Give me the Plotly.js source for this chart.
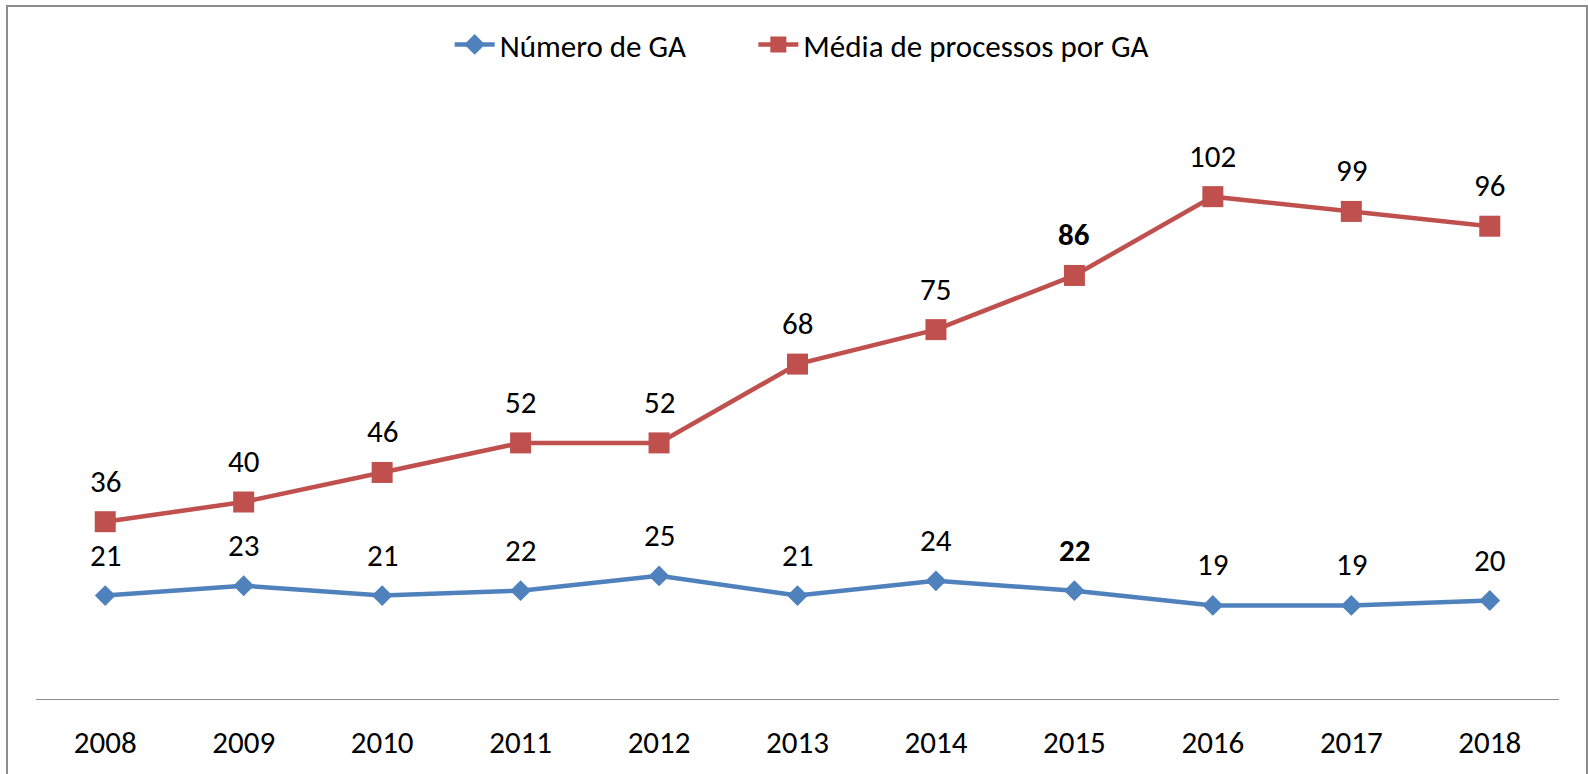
<!DOCTYPE html>
<html>
<head>
<meta charset="utf-8">
<script src="https://cdn.plot.ly/plotly-3.0.1.min.js"></script>
<style>
  html, body { margin: 0; padding: 0; background: #fff; }
  #wrap { position: relative; width: 1588px; height: 774px; overflow: hidden; }
  #chart { width: 1588px; height: 774px; }
  #frame { position: absolute; left: 6px; top: 5px; right: 0px; bottom: -10px;
           border: 2px solid #8c8c8c; pointer-events: none; }
  #err { position: absolute; left: 20px; top: 100px; color: red; font-size: 14px; }
</style>
</head>
<body>
<div id="wrap">
  <div id="chart"></div>
  <div id="frame"></div>
  <div id="err"></div>
</div>
<script>
window.onerror = function (m) { document.getElementById('err').textContent += m + ' | '; };

const years = ['2008','2009','2010','2011','2012','2013','2014','2015','2016','2017','2018'];
const numeroGA = [21, 23, 21, 22, 25, 21, 24, 22, 19, 19, 20];
const mediaProcessos = [36, 40, 46, 52, 52, 68, 75, 86, 102, 99, 96];
const boldIndex = 7;
const seriesNames = ['Número de GA', 'Média de processos por GA'];

const FONT = 'Carlito, Calibri, Lato, sans-serif';
const FS = 31;
const BLUE = '#4F81BD';
const RED = '#C0504D';

const traces = [
  {
    x: years, y: numeroGA, name: seriesNames[0], type: 'scatter', mode: 'lines+markers',
    line: { color: BLUE, width: 4.5 },
    marker: { symbol: 'diamond', size: 16, color: BLUE },
    hoverinfo: 'skip', cliponaxis: false, legend: 'legend'
  },
  {
    x: years, y: mediaProcessos, name: seriesNames[1], type: 'scatter', mode: 'lines+markers',
    line: { color: RED, width: 4.5 },
    marker: { symbol: 'square', size: 21, color: RED },
    hoverinfo: 'skip', cliponaxis: false, legend: 'legend2'
  }
];

const annotations = [];
[numeroGA, mediaProcessos].forEach(function (arr) {
  arr.forEach(function (v, i) {
    annotations.push({
      x: i, y: v, xref: 'x', yref: 'y',
      text: i === boldIndex ? '<b>' + v + '</b>' : String(v),
      showarrow: false, yshift: 41, xanchor: 'center', yanchor: 'middle',
      font: { family: FONT, size: FS, color: '#000000' }
    });
  });
});

function legendBox(xpos) {
  return {
    orientation: 'h', x: xpos, xanchor: 'left', y: 1.107, yanchor: 'middle',
    font: { family: FONT, size: FS, color: '#000' },
    itemwidth: 40, tracegroupgap: 0, bgcolor: 'rgba(0,0,0,0)'
  };
}

const layout = {
  width: 1588, height: 774,
  margin: { l: 36, r: 29, t: 108, b: 75, autoexpand: false },
  paper_bgcolor: '#fff', plot_bgcolor: '#fff',
  showlegend: true,
  legend: legendBox(0.2716),
  legend2: legendBox(0.471),
  xaxis: {
    type: 'category', range: [-0.5, 10.5], fixedrange: true,
    showline: true, linecolor: '#8c8c8c', linewidth: 1,
    showgrid: false, zeroline: false, ticks: '',
    ticklabelstandoff: 16,
    tickfont: { family: FONT, size: FS, color: '#000' }
  },
  yaxis: {
    range: [0, 120], fixedrange: true, visible: false,
    showgrid: false, zeroline: false
  },
  annotations: annotations
};

Plotly.newPlot('chart', traces, layout, { staticPlot: true, displayModeBar: false })
  .catch(function (e) { document.getElementById('err').textContent += String(e); });
</script>
</body>
</html>
